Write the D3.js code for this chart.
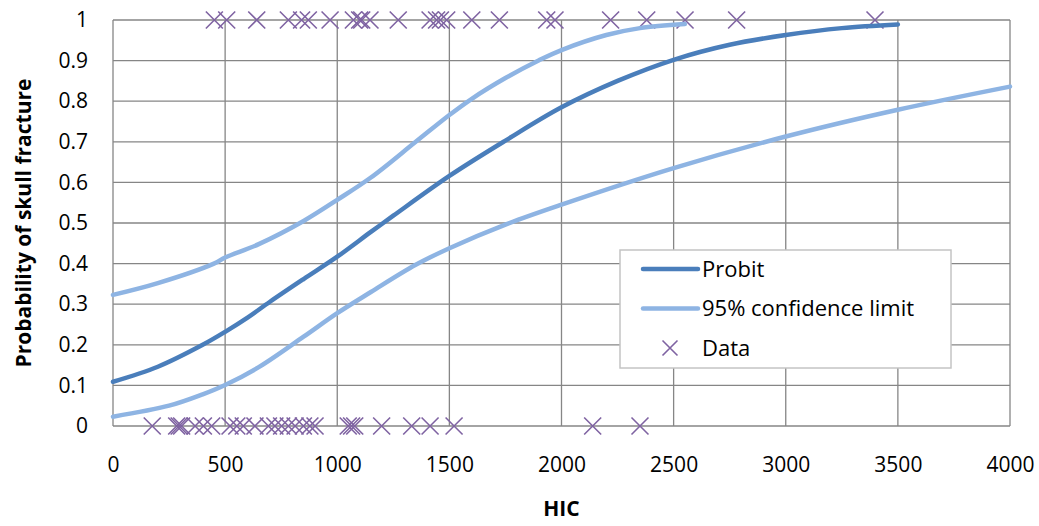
<!DOCTYPE html>
<html>
<head>
<meta charset="utf-8">
<script src="https://cdn.jsdelivr.net/npm/d3@7"></script>
<style>
  body { margin: 0; background: #fff; }
  text { font-family: "Open Sans", sans-serif; fill: #000; }
</style>
</head>
<body>
<div id="chart"></div>
<script>
// probit curve
const probitHic = [0, 200, 400, 500, 600, 700, 850, 1000, 1150, 1250, 1500, 1750, 2000, 2250, 2500, 2750, 3000, 3250, 3500];
const probitP   = [0.109, 0.146, 0.200, 0.232, 0.267, 0.306, 0.362, 0.417, 0.478, 0.518, 0.616, 0.703, 0.785, 0.850, 0.902, 0.939, 0.963, 0.980, 0.989];

// 95% confidence limits
const upperHic = [0, 200, 450, 500, 650, 850, 1000, 1150, 1350, 1500, 1600, 1750, 1900, 2000, 2200, 2350, 2550];
const upperP   = [0.323, 0.352, 0.400, 0.415, 0.448, 0.505, 0.557, 0.612, 0.700, 0.766, 0.806, 0.857, 0.901, 0.926, 0.963, 0.980, 0.990];
const lowerHic = [0, 250, 400, 500, 650, 850, 1000, 1150, 1350, 1500, 1750, 2000, 2500, 3000, 3500, 4000];
const lowerP   = [0.023, 0.050, 0.078, 0.101, 0.145, 0.220, 0.278, 0.330, 0.397, 0.438, 0.496, 0.545, 0.635, 0.713, 0.779, 0.836];

// observed data: fracture (1) and no fracture (0)
const fractureHic = [452, 507, 641, 782, 841, 871, 968, 1072, 1100, 1109, 1146, 1272, 1414, 1443, 1460, 1488, 1600, 1723, 1934, 1971, 2219, 2380, 2551, 2781, 3398];
const noFractureHic = [175, 284, 295, 306, 366, 403, 440, 522, 552, 581, 633, 693, 722, 752, 782, 812, 849, 878, 901, 1049, 1064, 1078, 1198, 1332, 1414, 1521, 2139, 2350];

const xTicks = [0, 500, 1000, 1500, 2000, 2500, 3000, 3500, 4000];
const yTicks = [0, 0.1, 0.2, 0.3, 0.4, 0.5, 0.6, 0.7, 0.8, 0.9, 1];

const dark = "#4a7ebb", light = "#8eb4e3", purple = "#7f63a2", grid = "#868686";

const margin = { top: 20, right: 29, bottom: 100, left: 113 };
const width = 1039 - margin.left - margin.right;
const height = 526 - margin.top - margin.bottom;

const svg = d3.select("#chart")
  .append("svg")
    .attr("width", 1039)
    .attr("height", 526);

const g = svg.append("g")
    .attr("transform", `translate(${margin.left},${margin.top})`);

const x = d3.scaleLinear().domain([0, 4000]).range([0, width]);
const y = d3.scaleLinear().domain([0, 1]).range([height, 0]);

// grid
g.append("g")
  .selectAll("line")
  .data(xTicks)
  .join("line")
    .attr("x1", d => x(d)).attr("x2", d => x(d))
    .attr("y1", 0).attr("y2", height)
    .attr("stroke", grid).attr("stroke-width", 1.3);

g.append("g")
  .selectAll("line")
  .data(yTicks)
  .join("line")
    .attr("x1", 0).attr("x2", width)
    .attr("y1", d => y(d)).attr("y2", d => y(d))
    .attr("stroke", grid).attr("stroke-width", 1.3);

// axes (labels only)
const xAxis = g.append("g")
    .attr("transform", `translate(0,${height})`)
    .call(d3.axisBottom(x).tickValues(xTicks).tickSize(0).tickPadding(31).tickFormat(d3.format("d")));
const yAxis = g.append("g")
    .call(d3.axisLeft(y).tickValues(yTicks).tickSize(0).tickPadding(25).tickFormat(d => d === 0 || d === 1 ? d : d3.format(".1f")(d)));
[xAxis, yAxis].forEach(a => {
  a.select(".domain").remove();
  a.selectAll("text").style("font-size", "21px").style("font-family", "Open Sans, sans-serif");
});

// markers
function cross(sel, s) {
  sel.append("path")
    .attr("d", `M${-s},${-s}L${s},${s}M${-s},${s}L${s},${-s}`)
    .attr("stroke", purple).attr("stroke-width", 1.6).attr("fill", "none");
}
const pts = fractureHic.map(h => [h, 1]).concat(noFractureHic.map(h => [h, 0]));
g.append("g")
  .selectAll("g")
  .data(pts)
  .join("g")
    .attr("transform", d => `translate(${x(d[0])},${y(d[1])})`)
    .each(function () { cross(d3.select(this), 8.5); });

// lines
const line = d3.line()
  .x(d => x(d[0]))
  .y(d => y(d[1]))
  .curve(d3.curveCatmullRom);

function drawLine(hic, p, color) {
  g.append("path")
    .datum(hic.map((h, i) => [h, p[i]]))
    .attr("fill", "none")
    .attr("stroke", color)
    .attr("stroke-width", 4.5)
    .attr("stroke-linecap", "round")
    .attr("d", line);
}
drawLine(lowerHic, lowerP, light);
drawLine(upperHic, upperP, light);
drawLine(probitHic, probitP, dark);

// axis titles
svg.append("text")
  .attr("x", margin.left + width / 2)
  .attr("y", 516)
  .attr("text-anchor", "middle")
  .style("font-size", "21px")
  .style("font-weight", "bold")
  .text("HIC");

svg.append("text")
  .attr("transform", `translate(31,${margin.top + height / 2}) rotate(-90)`)
  .attr("text-anchor", "middle")
  .style("font-size", "21px")
  .style("font-weight", "bold")
  .text("Probability of skull fracture");

// legend
const legend = svg.append("g").attr("transform", "translate(620,250)");
legend.append("rect")
  .attr("width", 331).attr("height", 118)
  .attr("fill", "#fff").attr("stroke", "#c4c4c4").attr("stroke-width", 1.5);

const legendItems = ["Probit", "95% confidence limit", "Data"];
const legendColors = [dark, light, purple];
legendItems.forEach((name, i) => {
  const row = legend.append("g").attr("transform", `translate(0,${19 + i * 39.5})`);
  if (i < 2) {
    row.append("line")
      .attr("x1", 23).attr("x2", 78)
      .attr("stroke", legendColors[i]).attr("stroke-width", 4.5)
      .attr("stroke-linecap", "round");
  } else {
    const m = row.append("g").attr("transform", "translate(50,0)");
    cross(m, 7.5);
  }
  row.append("text")
    .attr("x", 82).attr("dy", "0.35em")
    .style("font-size", "22px")
    .text(name);
});
</script>
</body>
</html>
